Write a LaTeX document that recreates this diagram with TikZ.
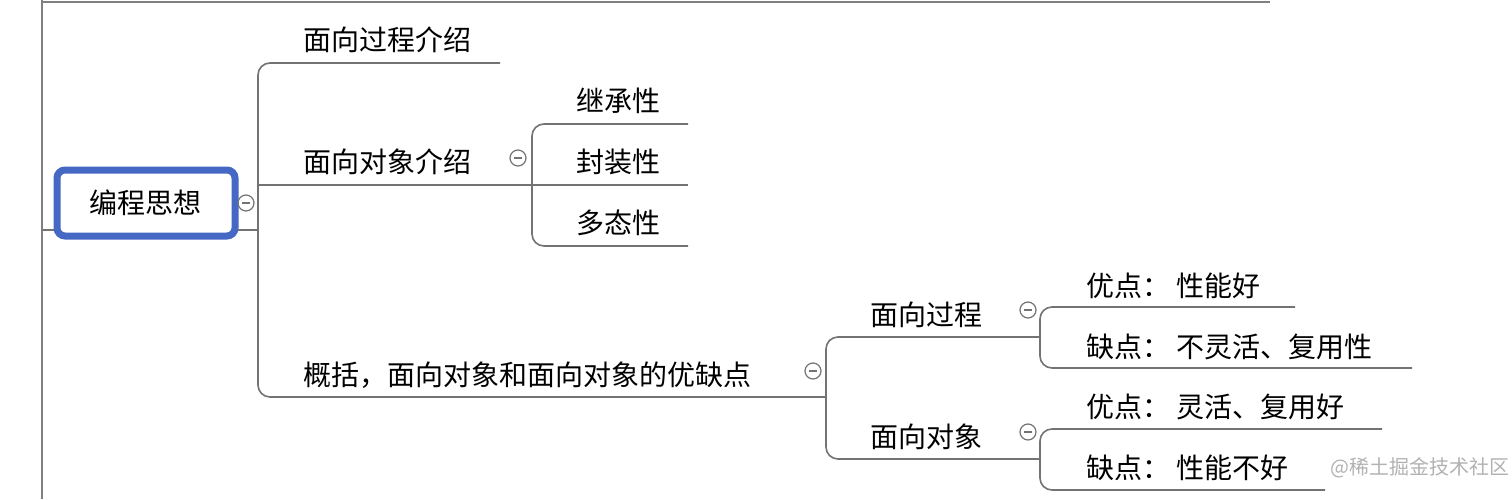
\documentclass[tikz,border=0pt]{standalone}
\usepackage{fontspec}
\setmainfont{Noto Sans CJK SC}
\usepackage{tikz}
\usetikzlibrary{positioning}

\tikzset{
  edge/.style={draw=black!55, line width=0.8pt, rounded corners=6pt},
  topic/.style={anchor=west, inner sep=0pt, font=\fontsize{14pt}{16pt}\selectfont},
  fold/.style={circle, draw=black!55, line width=0.6pt, minimum size=8pt, inner sep=0pt},
}

\begin{document}
\begin{tikzpicture}[x=0.5pt,y=-0.5pt]
\useasboundingbox (0,0) rectangle (1512,499);
\fill[white] (0,0) rectangle (1512,499);
\draw[black!50, line width=0.8pt] (42,2) -- (1270,2);
\draw[black!50, line width=0.8pt] (42,0) -- (42,499);
% root
\draw[black!55, line width=0.8pt] (42,230) -- (258,230);
\node[draw={rgb,255:red,68;green,104;blue,196}, line width=3.5pt, rounded corners=4pt, fill=white,
  minimum width=89pt, minimum height=33pt, font=\fontsize{14pt}{16pt}\selectfont] (root) at (146,203) {编程思想};
\node[fold] (f0) at (246,203) {};
\draw[black!55, line width=0.6pt] ([xshift=-2pt]f0.center) -- ([xshift=2pt]f0.center);
% first level
\node[topic] (proc) at (303,40) {面向过程介绍};
\node[topic] (obj) at (303,162) {面向对象介绍};
\node[topic] (sum) at (303,375) {概括，面向对象和面向对象的优缺点};
\draw[edge] (500,63) -- (258,63) -- (258,397) -- (826,397);
\draw[edge] (258,185) -- (532,185);
\node[fold] (f1) at (518,158) {};
\node[fold] (f2) at (813,371) {};
% second level: object
\node[topic] (inh) at (576,101) {继承性};
\node[topic] (enc) at (576,162) {封装性};
\node[topic] (poly) at (576,223) {多态性};
\draw[edge] (688,124) -- (532,124) -- (532,246) -- (688,246);
\draw[edge] (532,185) -- (688,185);
% second level: summary
\node[topic] (sproc) at (870,315) {面向过程};
\node[topic] (sobj) at (870,437) {面向对象};
\draw[edge] (1040,337) -- (826,337) -- (826,459) -- (1040,459);
\node[fold] (f3) at (1028,310) {};
\node[fold] (f4) at (1028,432) {};
\foreach \f in {f1,f2,f3,f4}
  \draw[black!55, line width=0.6pt] ([xshift=-2pt]\f.center) -- ([xshift=2pt]\f.center);
% third level
\node[topic] (p1) at (1086,286) {优点：\ 性能好};
\node[topic] (p2) at (1086,347) {缺点：\ 不灵活、复用性};
\node[topic] (o1) at (1086,407) {优点：\ 灵活、复用好};
\node[topic] (o2) at (1086,468) {缺点：\ 性能不好};
\draw[edge] (1295,307) -- (1040,307) -- (1040,368) -- (1412,368);
\draw[edge] (1382,429) -- (1040,429) -- (1040,490) -- (1325,490);
% watermark
\node[anchor=west, inner sep=0pt, text=black!30, font=\fontsize{10pt}{12pt}\selectfont] (wm) at (1330,468) {@稀土掘金技术社区};
\end{tikzpicture}
\end{document}
